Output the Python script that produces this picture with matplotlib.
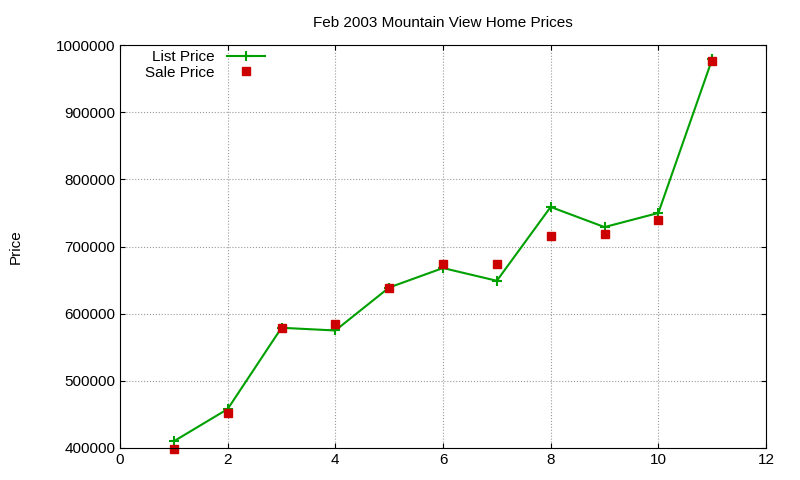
import matplotlib
matplotlib.use("Agg")
import matplotlib.pyplot as plt

x = [1, 2, 3, 4, 5, 6, 7, 8, 9, 10, 11]
list_price = [410000, 458000, 579000, 575000, 639000, 668000, 649000, 759000, 729000, 750000, 979000]
sale_price = [399000, 452000, 579000, 585000, 639000, 674000, 674000, 715000, 718000, 739000, 976000]

plt.rcParams['font.family'] = ['Liberation Sans', 'DejaVu Sans']
fig = plt.figure(figsize=(8, 4.8), dpi=100)
ax = fig.add_axes([0.15, 0.0667, 0.8075, 0.8393])
ax.plot(x, list_price, color='#00a000', lw=1.5, marker='+', ms=7, mew=1.5, label='List Price', clip_on=False)
ax.plot(x, sale_price, ls='none', marker='s', color='#cc0000', ms=6, label='Sale Price', clip_on=False)
ax.set_xlim(0, 12)
ax.set_ylim(400000, 1000000)
ax.set_xticks(range(0, 13, 2))
ax.set_yticks(range(400000, 1000001, 100000))
ax.ticklabel_format(style='plain', axis='y')
ax.grid(True, color='#999999', ls=':', lw=0.8)
ax.tick_params(direction='in', labelsize=11, top=True, right=True)
ax.set_ylabel('Price', fontsize=11, labelpad=24)
ax.set_title('Feb 2003 Mountain View Home Prices', fontsize=11, pad=13)
ax.legend(loc='upper left', markerfirst=False, frameon=False, fontsize=11,
          bbox_to_anchor=(0.02, 1.018), handlelength=2.5, borderpad=0.3, labelspacing=0.1)
fig.savefig('out.png')
